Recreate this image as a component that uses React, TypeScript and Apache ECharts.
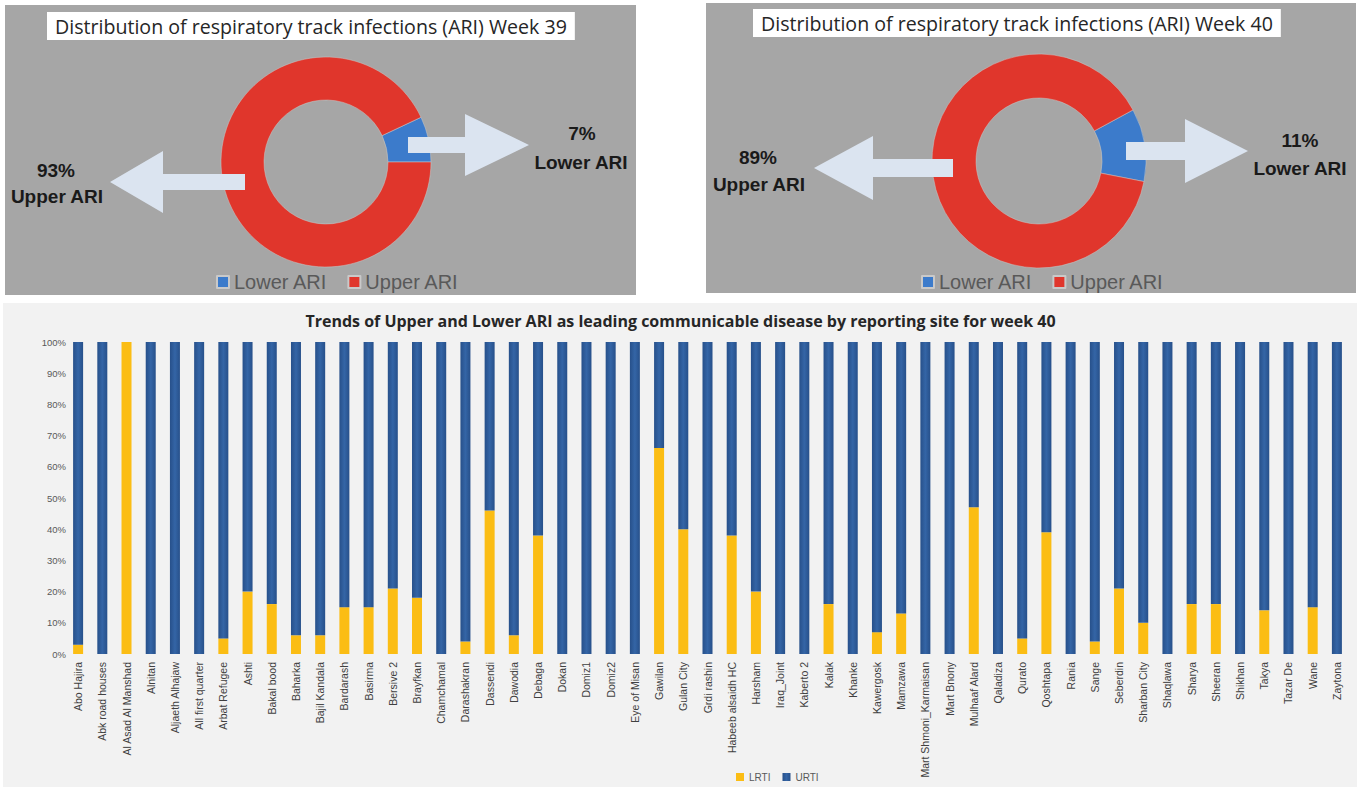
import React, { useEffect, useRef } from "react";
import * as echarts from "echarts";

const pieNames = ["Lower ARI", "Upper ARI"];
const week39 = [7, 93];
const week40 = [11, 89];

const sites = [
  "Abo Hajira", "Abk road houses", "Al Asad Al Manshad", "Alnitan", "Aljaeth Alhajaw",
  "All first quarter", "Arbat Refugee", "Ashti", "Bakal bood", "Baharka",
  "Bajil Kandala", "Bardarash", "Basirma", "Bersive 2", "Brayfkan",
  "Chamchamal", "Darashakran", "Dassendi", "Dawodia", "Debaga",
  "Dokan", "Domiz1", "Domiz2", "Eye of Misan", "Gawilan",
  "Gulan City", "Grdi rashin", "Habeeb alsaidh HC", "Harsham", "Iraq_Joint",
  "Kaberto 2", "Kalak", "Khanke", "Kawergosk", "Mamzawa",
  "Mart Shmoni_Karmaisan", "Mart Bnony", "Mulhaaf Alard", "Qaladiza", "Qurato",
  "Qoshtapa", "Rania", "Sange", "Seberdin", "Sharban City",
  "Shaqlawa", "Sharya", "Sheeran", "Shikhan", "Takya",
  "Tazar De", "Wane", "Zaytona",
];

const lrti = [
  3, 0, 100, 0, 0,
  0, 5, 20, 16, 6,
  6, 15, 15, 21, 18,
  0, 4, 46, 6, 38,
  0, 0, 0, 0, 66,
  40, 0, 38, 20, 0,
  0, 16, 0, 7, 13,
  0, 0, 47, 0, 5,
  39, 0, 4, 21, 10,
  0, 16, 16, 0, 14,
  0, 15, 0,
];

const urti = [
  97, 100, 0, 100, 100,
  100, 95, 80, 84, 94,
  94, 85, 85, 79, 82,
  100, 96, 54, 94, 62,
  100, 100, 100, 100, 34,
  60, 100, 62, 80, 100,
  100, 84, 100, 93, 87,
  100, 100, 53, 100, 95,
  61, 100, 96, 79, 90,
  100, 84, 84, 100, 86,
  100, 85, 100,
];

const yTicks = { min: 0, max: 100, interval: 10 };

const RED = "#e0362c";
const BLUE = "#3c7bcb";
const ARROW = "#dbe4f0";
const PANEL = "#a6a6a6";

function arrowRight(x0: number, xh: number, xt: number, cy: number, sh: number, hh: number) {
  return [
    [x0, cy - sh], [xh, cy - sh], [xh, cy - hh], [xt, cy],
    [xh, cy + hh], [xh, cy + sh], [x0, cy + sh],
  ];
}

export default function App() {
  const ref = useRef<HTMLDivElement>(null);
  useEffect(() => {
    document.body.style.margin = "0";
    const chart = echarts.init(ref.current!, null, { renderer: "svg" });
    const labelStyle = (text: string, x: number, y: number) => ({
      type: "text",
      z: 100,
      style: {
        text,
        x,
        y,
        fill: "#1a1a1a",
        font: "bold 19px 'Liberation Sans', Arial, sans-serif",
        textAlign: "center",
        textVerticalAlign: "middle",
      },
    });
    const pieSeries = (center: [number, number], radius: [number, number], data: number[]) => ({
      type: "pie",
      center,
      radius,
      startAngle: (data[0] / 100) * 360 * (center[0] > 600 ? 0.72 : 1),
      clockwise: true,
      silent: true,
      label: { show: false },
      labelLine: { show: false },
      itemStyle: { borderColor: "#c9c9c9", borderWidth: 0.5 },
      data: pieNames.map((n, i) => ({
        name: n,
        value: data[i],
        itemStyle: { color: i === 0 ? BLUE : RED },
      })),
    });
    const pieLegend = (left: number) => ({
      data: pieNames,
      left,
      top: 267,
      icon: "rect",
      itemWidth: 12,
      itemHeight: 12,
      itemGap: 20,
      selectedMode: false,
      textStyle: { fontSize: 20, color: "#595959", fontFamily: "'Liberation Sans', Arial, sans-serif" },
    });
    const pieTitle = (text: string, left: number, top: number) => ({
      text,
      left,
      top,
      backgroundColor: "#ffffff",
      padding: [4, 8, 4, 8],
      textStyle: { fontSize: 19.6, fontWeight: "normal", color: "#262626", fontFamily: "'Open Sans', sans-serif" },
    });

    chart.setOption({
      animation: false,
      backgroundColor: "#ffffff",
      textStyle: { fontFamily: "'Liberation Sans', Arial, sans-serif" },
      title: [
        pieTitle("Distribution of respiratory track infections (ARI) Week 39", 47, 12),
        pieTitle("Distribution of respiratory track infections (ARI) Week 40", 753, 9),
        {
          text: "Trends of Upper and Lower ARI as leading communicable disease by reporting site for week 40",
          left: "center",
          top: 308,
          textStyle: { fontSize: 16, fontWeight: "bold", color: "#262626", fontFamily: "'Open Sans', sans-serif" },
        },
      ],
      legend: [
        pieLegend(211),
        pieLegend(916),
        {
          data: ["LRTI", "URTI"],
          left: 731,
          top: 767,
          icon: "rect",
          itemWidth: 8,
          itemHeight: 8,
          itemGap: 12,
          selectedMode: false,
          textStyle: { fontSize: 10, color: "#595959" },
        },
      ],
      grid: { left: 66, right: 12, top: 342, bottom: 133, containLabel: false },
      xAxis: {
        type: "category",
        data: sites,
        axisLine: { show: false },
        axisTick: { show: false },
        axisLabel: { rotate: 90, interval: 0, fontSize: 10.5, color: "#404040", margin: 8 },
      },
      yAxis: {
        type: "value",
        min: yTicks.min,
        max: yTicks.max,
        interval: yTicks.interval,
        axisLine: { show: false },
        axisTick: { show: false },
        splitLine: { show: false },
        axisLabel: { formatter: "{value}%", fontSize: 9.5, color: "#595959", margin: 0 },
      },
      series: [
        pieSeries([326, 162], [62, 105], week39),
        pieSeries([1039, 161], [63, 107], week40),
        {
          name: "LRTI",
          type: "bar",
          stack: "ari",
          barWidth: 10,
          silent: true,
          itemStyle: { color: "#fbbd14" },
          data: lrti,
        },
        {
          name: "URTI",
          type: "bar",
          stack: "ari",
          barWidth: 10,
          silent: true,
          itemStyle: {
            color: new echarts.graphic.LinearGradient(0, 0, 1, 0, [
              { offset: 0, color: "#27508a" },
              { offset: 0.5, color: "#3465a6" },
              { offset: 1, color: "#27508a" },
            ]),
          },
          data: urti,
        },
      ],
      graphic: [
        { type: "rect", z: -10, shape: { x: 5, y: 5, width: 631, height: 290 }, style: { fill: PANEL } },
        { type: "rect", z: -10, shape: { x: 706, y: 3, width: 650, height: 290 }, style: { fill: PANEL } },
        { type: "rect", z: -10, shape: { x: 3, y: 303, width: 1354, height: 484 }, style: { fill: "#f2f2f2" } },
        { type: "polygon", z: 100, shape: { points: arrowRight(408, 465, 529, 145, 8, 31) }, style: { fill: ARROW } },
        { type: "polygon", z: 100, shape: { points: arrowRight(245, 163, 110, 182, 8, 31) }, style: { fill: ARROW } },
        { type: "polygon", z: 100, shape: { points: arrowRight(1126, 1185, 1248, 151, 9, 32) }, style: { fill: ARROW } },
        { type: "polygon", z: 100, shape: { points: arrowRight(953, 873, 814, 168, 9, 32) }, style: { fill: ARROW } },
        labelStyle(`${week39[1]}%`, 56, 170),
        labelStyle(pieNames[1], 57, 196),
        labelStyle(`${week39[0]}%`, 582, 133),
        labelStyle(pieNames[0], 581, 162),
        labelStyle(`${week40[1]}%`, 758, 157),
        labelStyle(pieNames[1], 759, 184),
        labelStyle(`${week40[0]}%`, 1300, 140),
        labelStyle(pieNames[0], 1300, 168),
      ],
    });
    return () => chart.dispose();
  }, []);
  return (
    <div
      ref={ref}
      style={{ position: "absolute", left: 0, top: 0, width: 1361, height: 787 }}
    />
  );
}
